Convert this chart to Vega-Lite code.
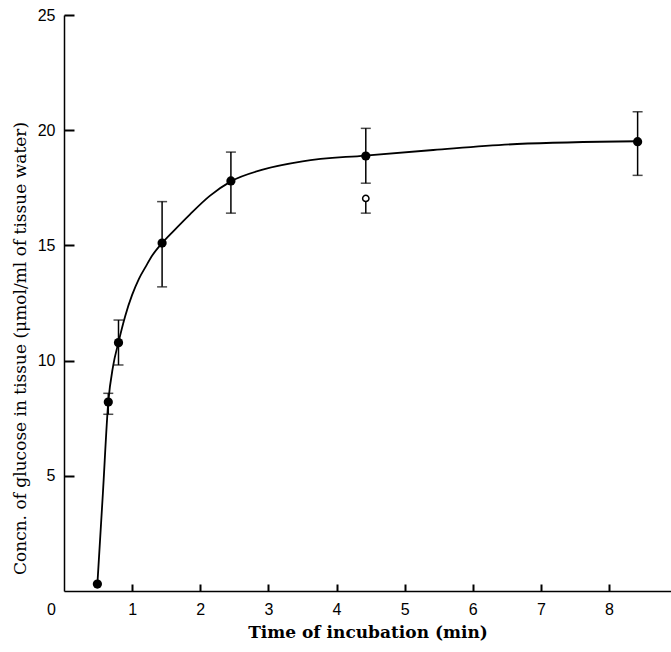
{
  "$schema": "https://vega.github.io/schema/vega-lite/v6.json",
  "autosize": "none",
  "width": 607,
  "height": 576,
  "padding": {"left": 64, "top": 15, "right": 0, "bottom": 61},
  "background": "white",
  "config": {
    "view": {"stroke": null},
    "axis": {
      "domainColor": "black",
      "domainWidth": 1.5,
      "grid": false,
      "labelColor": "black",
      "labelFont": "Liberation Sans",
      "labelFontSize": 16,
      "titleColor": "black",
      "titleFont": "DejaVu Serif"
    }
  },
  "datasets": {
    "curve": [
      {"t": 0.49, "c": 0.3},
      {"t": 0.57, "c": 4.2},
      {"t": 0.65, "c": 8.2},
      {"t": 0.72, "c": 9.75},
      {"t": 0.80, "c": 10.8},
      {"t": 0.90, "c": 11.95},
      {"t": 1.0, "c": 12.85},
      {"t": 1.1, "c": 13.55},
      {"t": 1.2, "c": 14.08},
      {"t": 1.3, "c": 14.58},
      {"t": 1.44, "c": 15.1},
      {"t": 1.6, "c": 15.6},
      {"t": 1.85, "c": 16.35},
      {"t": 2.14, "c": 17.15},
      {"t": 2.45, "c": 17.78},
      {"t": 2.93, "c": 18.3},
      {"t": 3.5, "c": 18.65},
      {"t": 4.42, "c": 18.9},
      {"t": 5.42, "c": 19.14},
      {"t": 6.65, "c": 19.4},
      {"t": 8.42, "c": 19.52}
    ],
    "points": [
      {"t": 0.49, "c": 0.3, "lo": null, "hi": null, "kind": "filled"},
      {"t": 0.65, "c": 8.2, "lo": 7.67, "hi": 8.58, "kind": "filled"},
      {"t": 0.80, "c": 10.78, "lo": 9.81, "hi": 11.76, "kind": "filled"},
      {"t": 1.44, "c": 15.1, "lo": 13.2, "hi": 16.9, "kind": "filled"},
      {"t": 2.45, "c": 17.8, "lo": 16.4, "hi": 19.05, "kind": "filled"},
      {"t": 4.43, "c": 18.88, "lo": 17.7, "hi": 20.08, "kind": "filled"},
      {"t": 8.42, "c": 19.5, "lo": 18.04, "hi": 20.8, "kind": "filled"},
      {"t": 4.43, "c": 17.04, "lo": 16.4, "hi": null, "kind": "open"}
    ]
  },
  "layer": [
    {
      "layer": [
        {
          "data": {"name": "points"},
          "transform": [{"filter": "datum.lo != null"}],
          "mark": {"type": "rule", "color": "black", "strokeWidth": 1.5},
          "encoding": {
            "x": {"field": "t", "type": "quantitative", "scale": {"domain": [0, 8.91], "nice": false, "zero": true},
              "axis": {
                "values": [0, 1, 2, 3, 4, 5, 6, 7, 8],
                "format": "d",
                "ticks": false,
                "labelFlush": false,
                "labelPadding": 10,
                "labelOffset": {"condition": {"test": "datum.value === 0", "value": -13}, "value": 0},
                "title": "Time of incubation (min)",
                "titleFontSize": 17,
                "titleFontWeight": "bold",
                "titlePadding": 7
              }},
            "y": {"field": "lo", "type": "quantitative", "scale": {"domain": [0, 25], "nice": false},
              "axis": {
                "values": [5, 10, 15, 20, 25],
                "ticks": false,
                "labelPadding": 9,
                "title": "Concn. of glucose in tissue (μmol/ml of tissue water)",
                "titleFontSize": 17,
                "titleFontWeight": "normal",
                "titlePadding": 8,
                "titleY": 333
              }},
            "y2": {"field": "c"}
          }
        },
        {
          "data": {"name": "points"},
          "transform": [{"filter": "datum.hi != null"}],
          "mark": {"type": "rule", "color": "black", "strokeWidth": 1.5},
          "encoding": {
            "x": {"field": "t", "type": "quantitative"},
            "y": {"field": "c", "type": "quantitative"},
            "y2": {"field": "hi"}
          }
        },
        {
          "data": {"name": "points"},
          "transform": [{"filter": "datum.lo != null"}],
          "mark": {"type": "tick", "orient": "horizontal", "color": "black", "size": 10, "thickness": 1.5},
          "encoding": {
            "x": {"field": "t", "type": "quantitative"},
            "y": {"field": "lo", "type": "quantitative"}
          }
        },
        {
          "data": {"name": "points"},
          "transform": [{"filter": "datum.hi != null"}],
          "mark": {"type": "tick", "orient": "horizontal", "color": "black", "size": 10, "thickness": 1.5},
          "encoding": {
            "x": {"field": "t", "type": "quantitative"},
            "y": {"field": "hi", "type": "quantitative"}
          }
        },
        {
          "data": {"name": "curve"},
          "mark": {"type": "line", "color": "black", "strokeWidth": 1.8, "interpolate": "monotone"},
          "encoding": {
            "x": {"field": "t", "type": "quantitative"},
            "y": {"field": "c", "type": "quantitative"}
          }
        },
        {
          "data": {"name": "points"},
          "transform": [{"filter": "datum.kind === 'filled'"}],
          "mark": {"type": "circle", "color": "black", "opacity": 1, "size": 85},
          "encoding": {
            "x": {"field": "t", "type": "quantitative"},
            "y": {"field": "c", "type": "quantitative"}
          }
        },
        {
          "data": {"name": "points"},
          "transform": [{"filter": "datum.kind === 'open'"}],
          "mark": {"type": "point", "shape": "circle", "filled": true, "fill": "white", "stroke": "black", "strokeWidth": 1.5, "opacity": 1, "size": 40},
          "encoding": {
            "x": {"field": "t", "type": "quantitative"},
            "y": {"field": "c", "type": "quantitative"}
          }
        }
      ]
    },
    {
      "data": {"name": "curve"},
      "mark": {"type": "point", "opacity": 0},
      "encoding": {
        "x": {"field": "t", "type": "quantitative",
          "axis": {"orient": "bottom", "offset": -7, "values": [1, 2, 3, 4, 5, 6, 7, 8], "domain": false, "labels": false, "ticks": true, "tickSize": 7, "tickColor": "black", "tickWidth": 2, "tickOpacity": 1, "title": null}},
        "y": {"field": "c", "type": "quantitative",
          "axis": {"orient": "left", "offset": -10, "values": [5, 10, 15, 20, 25], "domain": false, "labels": false, "ticks": true, "tickSize": 10, "tickColor": "black", "tickWidth": 2, "tickOpacity": 1, "title": null}}
      }
    }
  ],
  "resolve": {"axis": {"x": "independent", "y": "independent"}}
}
